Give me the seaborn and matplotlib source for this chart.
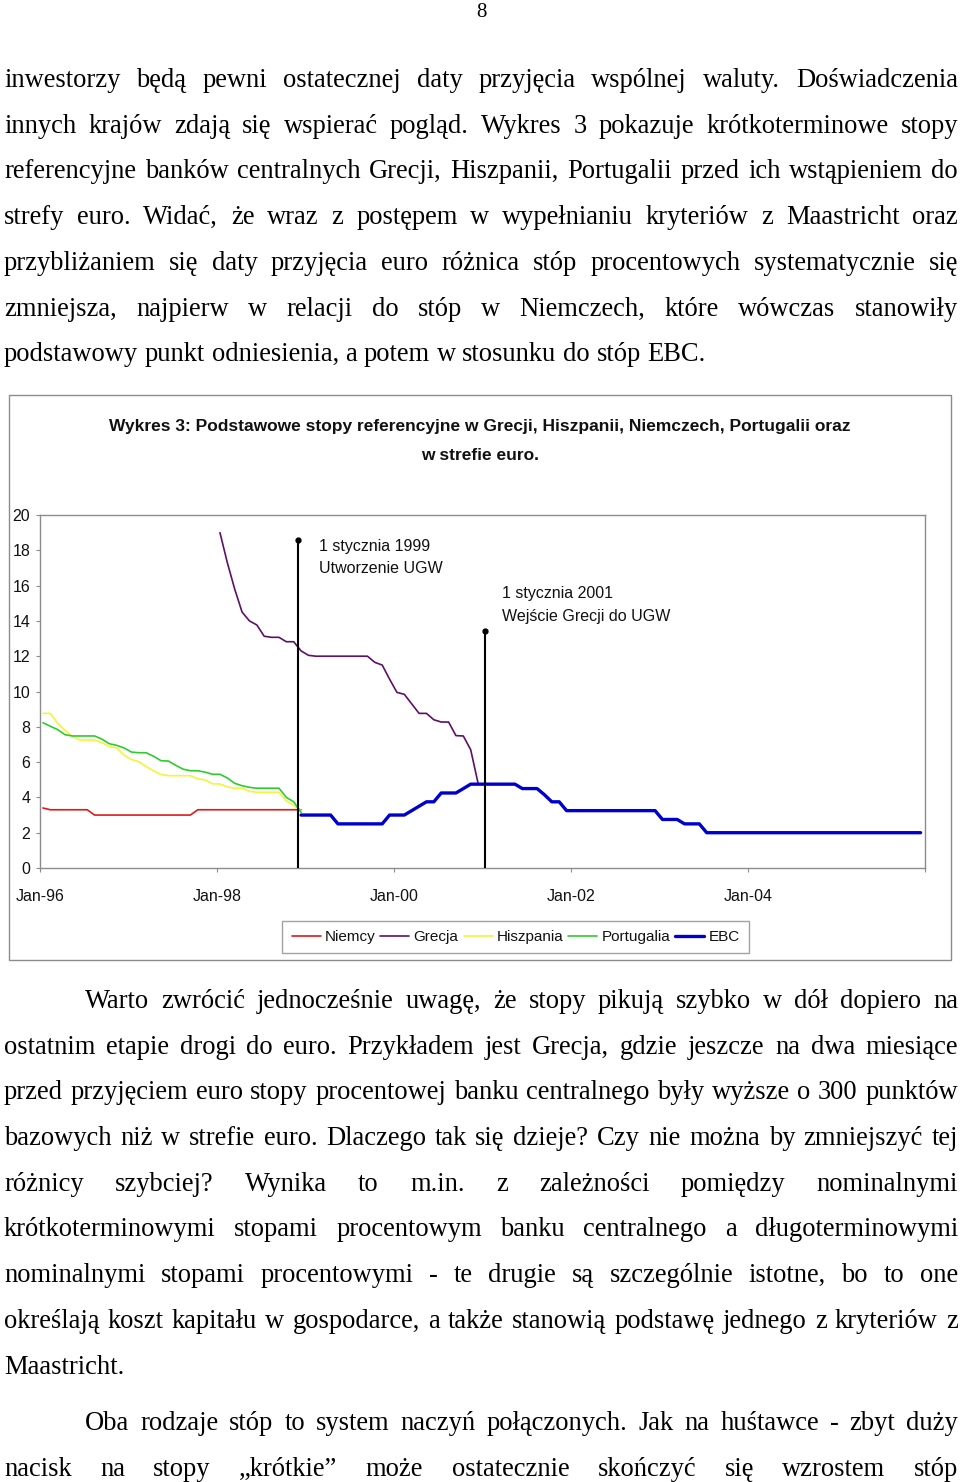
import numpy as np
import pandas as pd
import matplotlib
matplotlib.use("Agg")
import matplotlib.pyplot as plt
import seaborn as sns
from matplotlib.patches import Rectangle
from matplotlib.lines import Line2D

# ---------------- data (months since Jan-1996) ----------------
niemcy_start = 0
niemcy = [3.4, 3.3, 3.3, 3.3, 3.3, 3.3, 3.3,
          3.0, 3.0, 3.0, 3.0, 3.0, 3.0, 3.0, 3.0, 3.0, 3.0, 3.0, 3.0, 3.0, 3.0,
          3.3, 3.3, 3.3, 3.3, 3.3, 3.3, 3.3, 3.3, 3.3, 3.3, 3.3, 3.3, 3.3, 3.3, 3.3]

grecja_start = 24
grecja = [19.0, 17.3, 15.8, 14.5, 14.0, 13.77, 13.13, 13.07, 13.07, 12.82, 12.82, 12.3,
          12.05, 12.0, 12.0, 12.0, 12.0, 12.0, 12.0, 12.0, 12.0, 11.65, 11.5, 10.7,
          9.95, 9.84, 9.3, 8.76, 8.76, 8.4, 8.27, 8.27, 7.5, 7.48, 6.7, 4.8]

hiszpania_start = 0
hiszpania = [8.76, 8.76, 8.2, 7.8, 7.45, 7.25, 7.25, 7.25, 7.1, 6.88, 6.8, 6.4,
             6.15, 6.02, 5.75, 5.5, 5.3, 5.23, 5.23, 5.23, 5.23, 5.05, 4.99, 4.77,
             4.76, 4.6, 4.52, 4.52, 4.35, 4.29, 4.29, 4.29, 4.29, 3.8, 3.55, 3.25]

portugalia_start = 0
portugalia = [8.23, 8.03, 7.84, 7.55, 7.48, 7.48, 7.48, 7.48, 7.3, 7.04, 6.95, 6.8,
              6.57, 6.53, 6.53, 6.33, 6.08, 6.06, 5.82, 5.6, 5.51, 5.51, 5.43, 5.31,
              5.31, 5.1, 4.8, 4.66, 4.57, 4.52, 4.52, 4.52, 4.52, 4.0, 3.75, 3.15]

ebc_start = 35
ebc = ([3.0] * 5 + [2.5] * 7 + [3.0] * 3 + [3.25, 3.5] + [3.75] * 2 + [4.25] * 3 + [4.5]
       + [4.75] * 7 + [4.5] * 3 + [4.15] + [3.75] * 2 + [3.25] * 13 + [2.75] * 3
       + [2.5] * 3 + [2.0] * 30)

series_names = ["Niemcy", "Grecja", "Hiszpania", "Portugalia", "EBC"]
series_colors = ["#DD1A1A", "#5E0F66", "#F4F43A", "#2ECC2E", "#0000CC"]
series_widths = [1.2, 1.2, 1.2, 1.2, 2.4]

x_tick_labels = ["Jan-96", "Jan-98", "Jan-00", "Jan-02", "Jan-04", ""]
y_ticks = [0, 2, 4, 6, 8, 10, 12, 14, 16, 18, 20]

event_months = [34.6, 60.0]
event_tops = [18.6, 13.4]
event_texts = ["1 stycznia 1999\nUtworzenie UGW", "1 stycznia 2001\nWejście Grecji do UGW"]

chart_title = ("Wykres 3: Podstawowe stopy referencyjne w Grecji, Hiszpanii, Niemczech, Portugalii oraz\n"
               "w strefie euro.")

page_number = "8"

text_top = [
    "inwestorzy będą pewni ostatecznej daty przyjęcia wspólnej waluty. Doświadczenia",
    "innych krajów zdają się wspierać pogląd. Wykres 3 pokazuje krótkoterminowe stopy",
    "referencyjne banków centralnych Grecji, Hiszpanii, Portugalii przed ich wstąpieniem do",
    "strefy euro. Widać, że wraz z postępem w wypełnianiu kryteriów z Maastricht oraz",
    "przybliżaniem się daty przyjęcia euro różnica stóp procentowych systematycznie się",
    "zmniejsza, najpierw w relacji do stóp w Niemczech, które wówczas stanowiły",
    "podstawowy punkt odniesienia, a potem w stosunku do stóp EBC.",
]
text_bottom = [
    "Warto zwrócić jednocześnie uwagę, że stopy pikują szybko w dół dopiero na",
    "ostatnim etapie drogi do euro. Przykładem jest Grecja, gdzie jeszcze na dwa miesiące",
    "przed przyjęciem euro stopy procentowej banku centralnego były wyższe o 300 punktów",
    "bazowych niż w strefie euro. Dlaczego tak się dzieje? Czy nie można by zmniejszyć tej",
    "różnicy szybciej? Wynika to m.in. z zależności pomiędzy nominalnymi",
    "krótkoterminowymi stopami procentowym banku centralnego a długoterminowymi",
    "nominalnymi stopami procentowymi - te drugie są szczególnie istotne, bo to one",
    "określają koszt kapitału w gospodarce, a także stanowią podstawę jednego z kryteriów z",
    "Maastricht.",
    "Oba rodzaje stóp to system naczyń połączonych. Jak na huśtawce - zbyt duży",
    "nacisk na stopy „krótkie” może ostatecznie skończyć się wzrostem stóp",
]

# ---------------- style ----------------
sns.set_theme(style="white")
NARROW = ["Liberation Sans Narrow", "Liberation Sans", "DejaVu Sans"]
SERIF = ["Liberation Serif", "DejaVu Serif"]
plt.rcParams["font.family"] = NARROW

W, H = 960, 1482
fig = plt.figure(figsize=(W / 100, H / 100), dpi=100)
fig.patch.set_facecolor("white")


def fx(px):
    return px / W


def fy(py):
    return 1 - py / H


# chart frame
fig.patches.append(Rectangle((fx(9), fy(960)), fx(951) - fx(9), fy(395) - fy(960),
                             transform=fig.transFigure, fill=False,
                             edgecolor="#8C8C8C", linewidth=1.0))

ax = fig.add_axes([fx(40), fy(868), fx(925) - fx(40), fy(515) - fy(868)])

rows = []
starts = [niemcy_start, grecja_start, hiszpania_start, portugalia_start, ebc_start]
vals = [niemcy, grecja, hiszpania, portugalia, ebc]
for name, st, v in zip(series_names, starts, vals):
    for i, val in enumerate(v):
        rows.append({"series": name, "month": st + i, "rate": val})
df = pd.DataFrame(rows)

for name, col, lw in zip(series_names, series_colors, series_widths):
    sub = df[df["series"] == name]
    sns.lineplot(data=sub, x="month", y="rate", color=col, linewidth=lw,
                 ax=ax, label=name, estimator=None, sort=False, legend=False)

for xm, top in zip(event_months, event_tops):
    ax.plot([xm, xm], [0, top], color="black", linewidth=1.5, solid_capstyle="butt", zorder=5)
    ax.plot([xm], [top], marker="o", color="black", markersize=3.5, zorder=6)

ax.text(event_months[0] + 2.8, 18.65, event_texts[0], fontsize=11.5, va="top", ha="left",
        linespacing=1.6, color="#111111")
ax.text(event_months[1] + 2.3, 15.95, event_texts[1], fontsize=11.5, va="top", ha="left",
        linespacing=1.6, color="#111111")

ax.set_xlim(-0.4, 119.6)
ax.set_ylim(0, 20)
ax.set_xticks([-0.4 + 24 * k for k in range(6)])
ax.set_xticklabels(x_tick_labels)
ax.set_yticks(y_ticks)
ax.set_yticklabels([str(t) for t in y_ticks])
ax.set_xlabel("")
ax.set_ylabel("")
for s in ax.spines.values():
    s.set_color("#8C8C8C")
    s.set_linewidth(1.0)
    s.set_visible(True)
ax.tick_params(axis="both", which="both", direction="out", length=3, width=0.8,
               color="#8C8C8C", labelsize=11.5, labelcolor="#111111")
ax.tick_params(axis="x", pad=12)
ax.tick_params(axis="y", pad=4, left=True)
ax.tick_params(axis="x", bottom=True)
ax.set_facecolor("white")
ax.grid(False)

handles = [Line2D([0], [0], color=c, linewidth=lw) for c, lw in zip(series_colors, series_widths)]
leg = ax.legend(handles, series_names, loc="center",
                bbox_to_anchor=(fx(515.5), fy(937)), bbox_transform=fig.transFigure,
                ncol=5, frameon=True, fancybox=False, fontsize=11,
                handlelength=1.9, handletextpad=0.25, columnspacing=0.35,
                borderpad=0.6, borderaxespad=0)
leg.get_frame().set_edgecolor("#8C8C8C")
leg.get_frame().set_linewidth(1.0)
for t in leg.get_texts():
    t.set_color("#111111")

fig.text(0.5, fy(426), chart_title.split("\n")[0], ha="center", va="center",
         fontsize=12.5, fontweight="bold", color="#111111")
fig.text(0.5, fy(455), chart_title.split("\n")[1], ha="center", va="center",
         fontsize=12.5, fontweight="bold", color="#111111")

# ---------------- body text ----------------
renderer = fig.canvas.get_renderer()


def measure(words, fs):
    ts = [fig.text(0, 0, w, fontsize=fs, family=SERIF, va="baseline", ha="left",
                   color="black") for w in words]
    ws = [t.get_window_extent(renderer).width for t in ts]
    return ts, ws


def draw_line(line, y, fs, x0=4, x1=958, justify=True):
    words = line.split(" ")
    ts, ws = measure(words, fs)
    if justify and len(words) > 1:
        gap = (x1 - x0 - sum(ws)) / (len(words) - 1)
    else:
        gap = 0.25 * fs * 100 / 72
    x = x0
    for t, w in zip(ts, ws):
        t.set_position((fx(x), fy(y)))
        x += w + gap


FS_TOP = 19.1
fig.text(fx(481), fy(17), page_number, fontsize=15, family=SERIF, ha="center",
         va="baseline", color="black")

for i, line in enumerate(text_top):
    draw_line(line, 87 + 45.7 * i, FS_TOP, justify=(i < len(text_top) - 1))

# bottom section: choose a font size that fits every justified line
indent = {0: 85, 9: 85}
ratios = []
for i, line in enumerate(text_bottom):
    words = line.split(" ")
    ts, ws = measure(words, FS_TOP)
    nat = sum(ws) + 0.15 * FS_TOP * 100 / 72 * (len(words) - 1)
    ratios.append((958 - indent.get(i, 4)) / nat)
    for t in ts:
        t.remove()
FS_BOT = min(FS_TOP, FS_TOP * min(ratios))

ys_bottom = [1008 + 45.7 * k for k in range(9)] + [1430, 1476]
for i, line in enumerate(text_bottom):
    draw_line(line, ys_bottom[i], FS_BOT, x0=indent.get(i, 4),
              justify=(i not in (8,)))

fig.savefig("out.png", dpi=100, facecolor="white")
